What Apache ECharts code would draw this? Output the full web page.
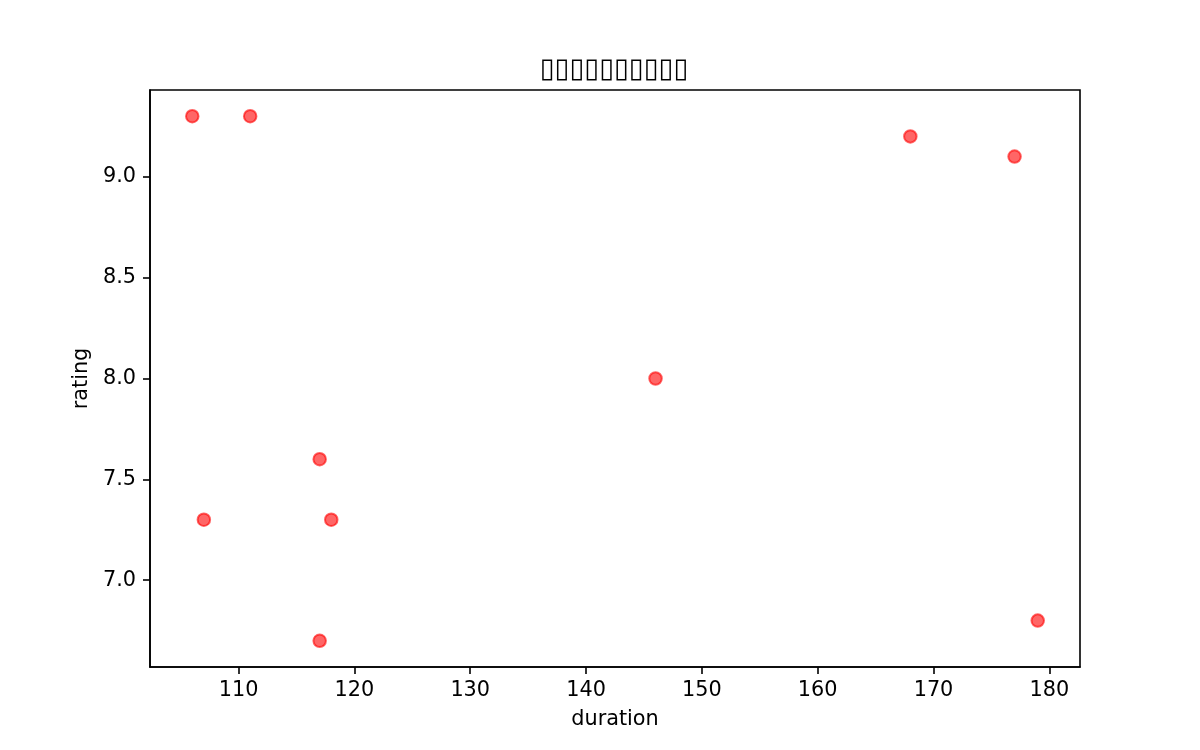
<!DOCTYPE html>
<html>
<head>
<meta charset="utf-8">
<script src="https://cdn.jsdelivr.net/npm/echarts@6/dist/echarts.min.js"></script>
<style>html,body{margin:0;padding:0;background:#fff}#c{width:1200px;height:750px}</style>
</head>
<body>
<div id="c"></div>
<script>
const titleText = '▯▯▯▯▯▯▯▯▯▯';
const duration = [106, 111, 168, 177, 146, 117, 107, 118, 117, 179];
const rating = [9.3, 9.3, 9.2, 9.1, 8.0, 7.6, 7.3, 7.3, 6.7, 6.8];
const xTicks = [110, 120, 130, 140, 150, 160, 170, 180];
const yTicks = [7.0, 7.5, 8.0, 8.5, 9.0];
const xName = 'duration';
const yName = 'rating';

const xmin = Math.min(...duration), xmax = Math.max(...duration);
const ymin = Math.min(...rating), ymax = Math.max(...rating);
const xm = (xmax - xmin) * 0.05, ym = (ymax - ymin) * 0.05;

const font = 'DejaVu Sans';
const chart = echarts.init(document.getElementById('c'), null, {renderer: 'canvas'});
chart.setOption({
  animation: false,
  backgroundColor: '#fff',
  title: {
    text: titleText, left: 609, textAlign: 'center', top: 51,
    textStyle: {fontFamily: font, fontSize: 27, fontWeight: 'normal', color: '#000'}
  },
  grid: {left: 150, right: 120, top: 90, bottom: 83, show: true, borderColor: '#000', borderWidth: 1.6, backgroundColor: 'transparent'},
  xAxis: {
    type: 'value', min: xmin - xm, max: xmax + xm,
    name: xName, nameLocation: 'middle', nameGap: 42,
    nameTextStyle: {fontFamily: font, fontSize: 20.8, color: '#000'},
    axisLine: {show: true, onZero: false, lineStyle: {color: '#000', width: 1.6}},
    axisTick: {show: true, length: 7, lineStyle: {color: '#000', width: 1.6}, customValues: xTicks},
    axisLabel: {fontFamily: font, fontSize: 20.8, color: '#000', margin: 13, customValues: xTicks},
    splitLine: {show: false}
  },
  yAxis: {
    type: 'value', min: ymin - ym, max: ymax + ym,
    name: yName, nameLocation: 'middle', nameGap: 53,
    nameTextStyle: {fontFamily: font, fontSize: 20.8, color: '#000'},
    axisLine: {show: true, onZero: false, lineStyle: {color: '#000', width: 1.6}},
    axisTick: {show: true, length: 7, lineStyle: {color: '#000', width: 1.6}, customValues: yTicks},
    axisLabel: {fontFamily: font, fontSize: 20.8, color: '#000', margin: 14, customValues: yTicks,
      formatter: v => v.toFixed(1)},
    splitLine: {show: false}
  },
  series: [{
    type: 'scatter',
    data: duration.map((d, i) => [d, rating[i]]),
    symbol: 'circle', symbolSize: 12.5,
    itemStyle: {color: 'rgba(255,0,0,0.6)', borderColor: 'rgba(255,0,0,0.6)', borderWidth: 2, opacity: 1}
  }]
});
</script>
</body>
</html>
